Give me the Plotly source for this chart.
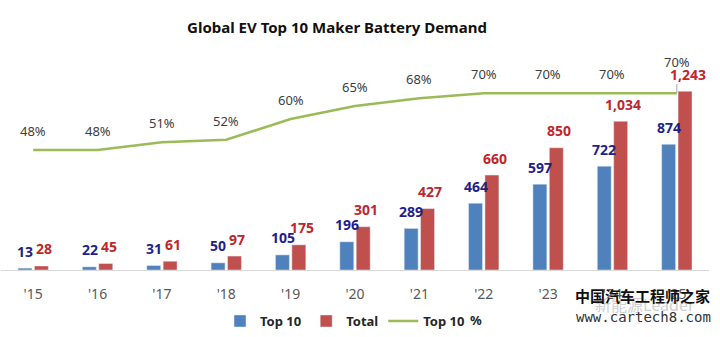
import plotly.graph_objects as go

categories = ["'15", "'16", "'17", "'18", "'19", "'20", "'21", "'22", "'23", "'24", "'25"]
top10 = [13, 22, 31, 50, 105, 196, 289, 464, 597, 722, 874]
total = [28, 45, 61, 97, 175, 301, 427, 660, 850, 1034, 1243]
top10_pct = [48, 48, 51, 52, 60, 65, 68, 70, 70, 70, 70]

BLUE = "#4F81BD"
RED = "#C0504D"
GREEN = "#9BBB59"
NAVY = "#1F1F8C"
DARKRED = "#C0262D"
GREY = "#404040"
FONT = "Noto Sans"

fig = go.Figure()
fig.add_trace(go.Bar(x=categories, y=top10, name="Top 10", marker_color=BLUE))
fig.add_trace(go.Bar(x=categories, y=total, name="Total", marker_color=RED))
fig.add_trace(go.Scatter(x=categories, y=top10_pct, name="Top 10", mode="lines",
                         line=dict(color=GREEN, width=2.5), yaxis="y2"))

ann = []
for c, v in zip(categories, top10):
    ann.append(dict(x=c, y=v, xref="x", yref="y", text=f"{v:,}", showarrow=False,
                    xshift=-8, yshift=17, yanchor="middle",
                    font=dict(family=FONT, size=14, color=NAVY, weight="bold")))
for c, v in zip(categories, total):
    ann.append(dict(x=c, y=v, xref="x", yref="y", text=f"{v:,}", showarrow=False,
                    xshift=11, yshift=17, yanchor="middle",
                    font=dict(family=FONT, size=14, color=DARKRED, weight="bold")))
n = len(categories)
for i, (c, v) in enumerate(zip(categories, top10_pct)):
    ann.append(dict(x=c, y=v, xref="x", yref="y2", text=f"{v}%", showarrow=False,
                    yshift=31 if i == n - 1 else 19, yanchor="middle",
                    font=dict(family=FONT, size=13, color=GREY)))
# legend suffix
ann.append(dict(x=476, y=325, text="<b>%</b>", showarrow=False,
                font=dict(family=FONT, size=13, color="#262626")))
# watermark
ann.append(dict(x=645, y=309, text="新能源Leader", showarrow=False,
                font=dict(family="Noto Sans CJK SC", size=16, color="#D0D0D0")))
ann.append(dict(x=642, y=300, text="<b>中国汽车工程师之家</b>", showarrow=False,
                font=dict(family="Noto Sans CJK SC", size=15, color="#111111")))
ann.append(dict(x=643, y=322, text="www.cartech8.com", showarrow=False,
                font=dict(family="DejaVu Sans Mono", size=14, color="#333333")))

# convert pixel-placed annotations to paper coords
L, R, T, B = 1, 11, 60, 63
W, H = 720, 337
pw, ph = W - L - R, H - T - B
for a in ann[-4:]:
    px, py = a["x"], a["y"]
    a["x"] = (px - L) / pw
    a["y"] = (H - B - py) / ph
    a["xref"] = "paper"
    a["yref"] = "paper"
    a["xanchor"] = "center"
    a["yanchor"] = "middle"

fig.update_layout(
    width=W, height=H,
    margin=dict(l=L, r=R, t=T, b=B),
    paper_bgcolor="white", plot_bgcolor="white",
    barmode="group", bargap=0.49, bargroupgap=0.15,
    title=dict(text="<b>Global EV Top 10 Maker Battery Demand</b>",
               x=337 / W, xanchor="center", y=1 - 28 / H, yanchor="middle",
               yref="container",
               font=dict(family=FONT, size=15, color="#111111")),
    xaxis=dict(showgrid=False, showline=True, linecolor="#D9D9D9", linewidth=1,
               ticks="", tickfont=dict(family=FONT, size=14, color="#595959"),
               ticklabelstandoff=11),
    yaxis=dict(range=[0, 1460], visible=False, showgrid=False),
    yaxis2=dict(range=[1.7, 82.8], overlaying="y", side="right", visible=False,
                showgrid=False),
    showlegend=True,
    legend=dict(orientation="h", x=(220 - L) / pw, xanchor="left",
                y=(H - B - 326) / ph, yanchor="middle",
                font=dict(family=FONT, size=13, color="#262626", weight="bold"),
                traceorder="normal", itemwidth=30),
    annotations=ann,
    shapes=[dict(type="line", xref="x", yref="y2",
                 x0=categories[-1], x1=categories[-1],
                 y0=top10_pct[-1], y1=top10_pct[-1] + 3.5,
                 line=dict(color="#A6A6A6", width=1))],
)

fig.write_html("out.html")
